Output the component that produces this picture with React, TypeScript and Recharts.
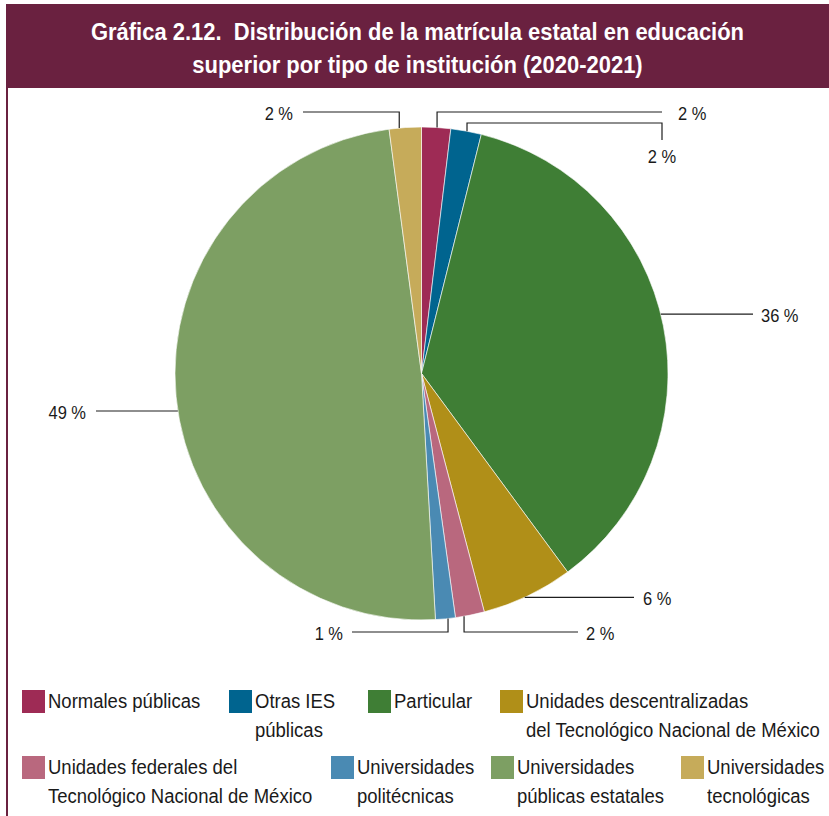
import { PieChart, Pie, Cell, Legend } from "recharts";

const categories = [
  "Normales públicas",
  "Otras IES públicas",
  "Particular",
  "Unidades descentralizadas del Tecnológico Nacional de México",
  "Unidades federales del Tecnológico Nacional de México",
  "Universidades politécnicas",
  "Universidades públicas estatales",
  "Universidades tecnológicas",
];

// share of state enrolment, %
const shares = [1.9, 2.0, 36.0, 6.0, 1.9, 1.3, 48.8, 2.1];

const legendLines = [
  ["Normales públicas"],
  ["Otras IES", "públicas"],
  ["Particular"],
  ["Unidades descentralizadas", "del Tecnológico Nacional de México"],
  ["Unidades federales del", "Tecnológico Nacional de México"],
  ["Universidades", "politécnicas"],
  ["Universidades", "públicas estatales"],
  ["Universidades", "tecnológicas"],
];

const colors = [
  "#9e2b55",
  "#00648f",
  "#3f7e35",
  "#b08f18",
  "#b9687e",
  "#4a8ab3",
  "#7d9f63",
  "#c6ab5a",
];

const titleLines = [
  "Gráfica 2.12.  Distribución de la matrícula estatal en educación",
  "superior por tipo de institución (2020-2021)",
];

// hand placed leader lines: shift along the arc (deg, clockwise), elbow level, end x, drop
const leaders: { shift: number; level?: number; end: number; drop?: number; gap: number }[] = [
  { shift: 0.2, level: 112, end: 662, gap: 16 },
  { shift: 0.2, level: 123, end: 662, drop: 140, gap: 0 },
  { shift: -2.8, end: 753, gap: 8 },
  { shift: 0.8, end: 634, gap: 9 },
  { shift: 1.4, level: 632, end: 578, gap: 8 },
  { shift: -0.6, level: 632, end: 352, gap: 9 },
  { shift: -3.35, end: 96, gap: 10 },
  { shift: -1.4, level: 112, end: 303, gap: 10 },
];

const legendSpots = [
  [22, 10], [229, 10], [368, 10], [500, 10],
  [22, 76], [331, 76], [491, 76], [681, 76],
];

const FONT = "'Liberation Sans', Arial, Helvetica, sans-serif";
const RAD = Math.PI / 180;

const pieData = categories.map((name, i) => ({ name, value: shares[i] }));

const renderLabel = (props: any) => {
  const { cx, cy, outerRadius, midAngle, index, value } = props;
  const cfg = leaders[index];
  const a = (midAngle - cfg.shift) * RAD;
  const sx = cx + outerRadius * Math.cos(a);
  const sy = cy - outerRadius * Math.sin(a);
  const pts: number[][] = [[sx, sy]];
  if (cfg.level !== undefined) {
    pts.push([sx, cfg.level], [cfg.end, cfg.level]);
    if (cfg.drop !== undefined) pts.push([cfg.end, cfg.drop]);
  } else {
    pts.push([cfg.end, sy]);
  }
  const last = pts[pts.length - 1];
  const prev = pts[pts.length - 2];
  const text = `${Math.round(value)} %`;
  let tx = last[0];
  let ty = last[1] + 1.5;
  let anchor: "start" | "end" | "middle" = "start";
  if (cfg.drop !== undefined) {
    ty = last[1] + 17;
    anchor = "middle";
  } else if (last[0] > prev[0]) {
    tx = last[0] + cfg.gap;
  } else {
    tx = last[0] - cfg.gap;
    anchor = "end";
  }
  return (
    <g>
      <polyline
        points={pts.map((p) => p.join(",")).join(" ")}
        fill="none"
        stroke="#1e1e1e"
        strokeWidth={1.2}
      />
      <text
        x={0}
        y={0}
        transform={`translate(${tx},${ty}) scale(0.89,1)`}
        textAnchor={anchor}
        dominantBaseline="central"
        fill="#1a1a1a"
        style={{ fontFamily: FONT, fontSize: 18.5 }}
      >
        {text}
      </text>
    </g>
  );
};

const LegendBlock = () => (
  <div style={{ position: "relative", width: 829, height: 136, fontFamily: FONT }}>
    {legendLines.map((lines, i) => (
      <div key={i}>
        <div
          style={{
            position: "absolute",
            left: legendSpots[i][0],
            top: legendSpots[i][1],
            width: 23,
            height: 23,
            background: colors[i],
          }}
        />
        <div
          style={{
            position: "absolute",
            left: legendSpots[i][0] + 26,
            top: legendSpots[i][1] - 3.4,
            fontSize: 20,
            lineHeight: "29px",
            color: "#1a1a1a",
            whiteSpace: "nowrap",
            transform: "scaleX(0.925)",
            transformOrigin: "left top",
          }}
        >
          {lines.map((l, j) => (
            <div key={j}>{l}</div>
          ))}
        </div>
      </div>
    ))}
  </div>
);

export default function App() {
  return (
    <div
      style={{
        position: "absolute",
        left: 0,
        top: 0,
        width: 829,
        height: 816,
        background: "#fff",
        overflow: "hidden",
      }}
    >
      <div
        style={{
          position: "absolute",
          left: 6,
          top: 4,
          width: 2,
          height: 812,
          background: "#6a2140",
        }}
      />
      <div
        style={{
          position: "absolute",
          left: 6,
          top: 4,
          width: 823,
          height: 84,
          background: "#6a2140",
          color: "#fff",
          fontFamily: FONT,
          fontWeight: "bold",
          fontSize: 23,
          lineHeight: "33px",
          textAlign: "center",
          paddingTop: 11.5,
          boxSizing: "border-box",
        }}
      >
        {titleLines.map((l, i) => (
          <div key={i} style={{ whiteSpace: "pre", transform: "scaleX(0.955)" }}>
            {l}
          </div>
        ))}
      </div>
      <PieChart width={829} height={816} margin={{ top: 0, right: 0, bottom: 0, left: 0 }}>
        <Pie
          data={pieData}
          dataKey="value"
          nameKey="name"
          cx={421.5}
          cy={373.5}
          outerRadius={246.5}
          startAngle={90}
          endAngle={-270}
          stroke="#ffffff"
          strokeWidth={0.6}
          label={renderLabel}
          labelLine={false}
          isAnimationActive={false}
        >
          {pieData.map((_, i) => (
            <Cell key={i} fill={colors[i]} />
          ))}
        </Pie>
        <Legend
          verticalAlign="bottom"
          content={() => <LegendBlock />}
          wrapperStyle={{ position: "absolute", left: 0, top: 680, bottom: "auto", width: 829, height: 136 }}
        />
      </PieChart>
    </div>
  );
}
